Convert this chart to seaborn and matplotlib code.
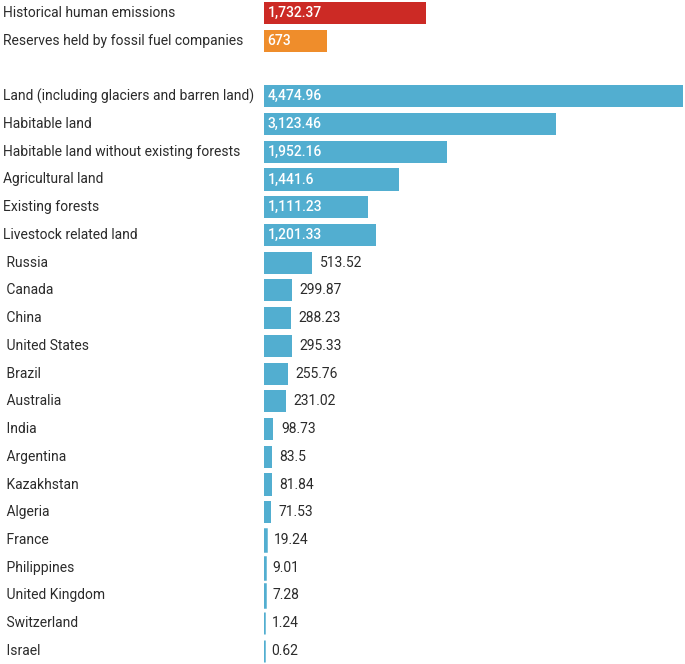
import seaborn as sb
import matplotlib.pyplot as plt
import matplotlib.transforms as mtransforms
import pandas as pd

labels = ['Historical human emissions', 'Reserves held by fossil fuel companies', '',
          'Land (including glaciers and barren land)', 'Habitable land',
          'Habitable land without existing forests', 'Agricultural land',
          'Existing forests', 'Livestock related land',
          ' Russia', ' Canada', ' China', ' United States', ' Brazil', ' Australia',
          ' India', ' Argentina', ' Kazakhstan', ' Algeria', ' France',
          ' Philippines', ' United Kingdom', ' Switzerland', ' Israel']
values = [1732.37, 673, 0,
          4474.96, 3123.46, 1952.16, 1441.6, 1111.23, 1201.33,
          513.52, 299.87, 288.23, 295.33, 255.76, 231.02,
          98.73, 83.5, 81.84, 71.53, 19.24,
          9.01, 7.28, 1.24, 0.62]
value_text = ['1,732.37', '673', '',
              '4,474.96', '3,123.46', '1,952.16', '1,441.6', '1,111.23', '1,201.33',
              '513.52', '299.87', '288.23', '295.33', '255.76', '231.02',
              '98.73', '83.5', '81.84', '71.53', '19.24',
              '9.01', '7.28', '1.24', '0.62']
groups = ['emis', 'res', 'gap'] + ['land'] * 21
colours = {'emis': '#cc2a25', 'res': '#ef8d2b', 'gap': '#ffffff', 'land': '#52aed0'}

df = pd.DataFrame({'label': labels, 'value': values, 'group': groups})
df['row'] = [str(i) for i in range(len(df))]

plt.rcParams['font.family'] = ['Roboto', 'DejaVu Sans']
fig = plt.figure(figsize=(6.85, 6.64), dpi=100)
ax = fig.add_axes([264 / 685, 0, 419 / 685, 1])

sb.barplot(data=df, x='value', y='row', hue='group', palette=colours,
           dodge=False, legend=False, width=0.8, ax=ax, saturation=1,
           edgecolor='none', order=df['row'])

# tiny bars still get a thin visible stroke
for p, v in zip(ax.patches, values):
    if 0 < v < 40:
        p.set_edgecolor('#52aed0')
        p.set_linewidth(1.8)

ax.set_xlim(0, 4474.96)
ax.set_ylim(23.47, -0.47)
ax.axis('off')

trans = mtransforms.blended_transform_factory(fig.transFigure, ax.transData)
for i, (lab, v, t) in enumerate(zip(labels, values, value_text)):
    if lab:
        ax.text(3 / 685, i, lab, transform=trans, ha='left', va='center',
                fontsize=10, color='#2b2b2b')
    if not t:
        continue
    if i <= 8:
        ax.annotate(t, (0, i), xytext=(2.5, 0), textcoords='offset points',
                    ha='left', va='center', fontsize=10, color='white',
                    fontweight='medium')
    else:
        ax.annotate(t, (v, i), xytext=(5.5, 0), textcoords='offset points',
                    ha='left', va='center', fontsize=10, color='#2b2b2b')

plt.savefig('out.png', dpi=100)
